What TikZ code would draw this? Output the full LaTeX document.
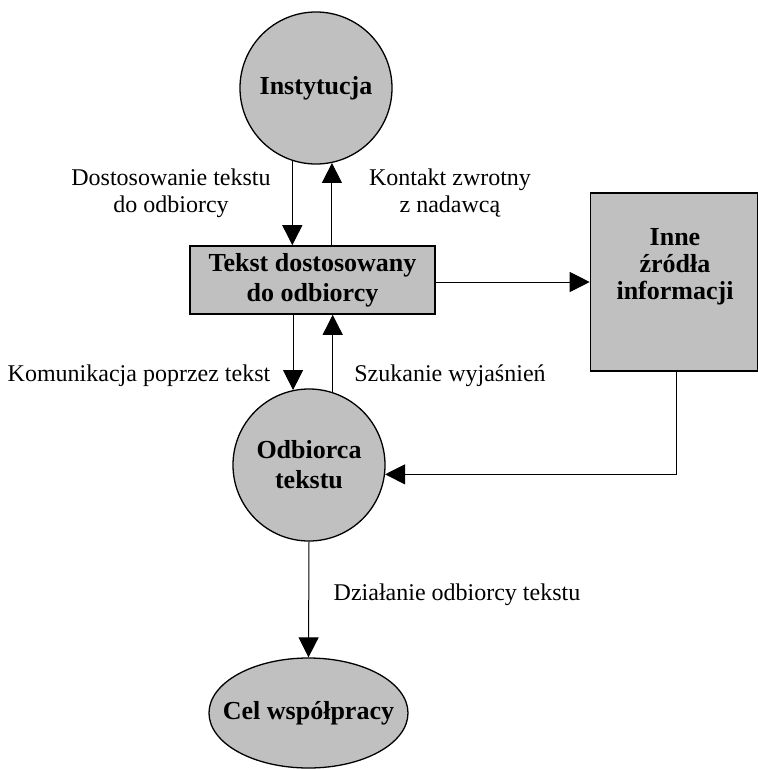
\documentclass[tikz,border=0pt]{standalone}
\usepackage{fontspec}
\setmainfont{Liberation Serif}
\usetikzlibrary{arrows.meta,shapes.geometric}
\definecolor{shapegray}{RGB}{192,192,192}
\begin{document}
\begin{tikzpicture}[x=1pt,y=-1pt,
  boldtext/.style={font=\fontsize{26}{30}\selectfont\bfseries,align=center},
  grayshape/.style={draw=black,fill=shapegray,line width=1.3pt,inner sep=0pt,boldtext},
  circ/.style={grayshape,circle,minimum size=152pt},
  box/.style={grayshape,rectangle,line width=1.6pt},
  lbl/.style={font=\fontsize{24}{27}\selectfont,align=center,inner sep=0pt},
  arr/.style={line width=1pt,-{Triangle[width=20pt,length=20pt]}}]
\useasboundingbox (0,0) rectangle (758,769);

% nodes
\node[circ] (inst) at (316,88) {Instytucja};
\node[box,minimum width=245pt,minimum height=68pt] (tekst) at (312.5,280)
  {Tekst dostosowany\\do odbiorcy};
\node[box,minimum width=167pt,minimum height=178pt] (inne) at (674,282) {};
\node[boldtext,font=\fontsize{26}{27}\selectfont\bfseries,inner sep=0pt]
  (innetxt) at (675,267) {Inne\\źródła\\informacji};
\node[circ] (odb) at (309,465) {Odbiorca\\tekstu};
\node[grayshape,ellipse,minimum width=199pt,minimum height=110pt] (cel) at (308.5,713) {};
\node[boldtext,inner sep=0pt] (celtxt) at (cel.center) {Cel współpracy};

% connector labels
\node[lbl] (l1) at (171,193) {Dostosowanie tekstu\\do odbiorcy};
\node[lbl] (l2) at (450,193) {Kontakt zwrotny\\z nadawcą};
\node[lbl] (l3) at (139,376) {Komunikacja poprzez tekst};
\node[lbl] (l4) at (450,376) {Szukanie wyjaśnień};
\node[lbl] (l5) at (457,595) {Działanie odbiorcy tekstu};

% connectors
\draw[arr] (inst.252) -- (inst.252 |- tekst.north);
\draw[arr] (tekst.north -| inst.282) -- (inst.282);
\draw[arr] (tekst.south -| odb.102) -- (odb.102);
\draw[arr] (odb.72) -- (odb.72 |- tekst.south);
\draw[arr] (tekst.east |- inne.west) -- (inne.west);
\draw[arr] ([xshift=2pt]inne.south) |- (odb.-7);
\draw[arr] (odb.south) -- (cel.north);
\end{tikzpicture}
\end{document}
